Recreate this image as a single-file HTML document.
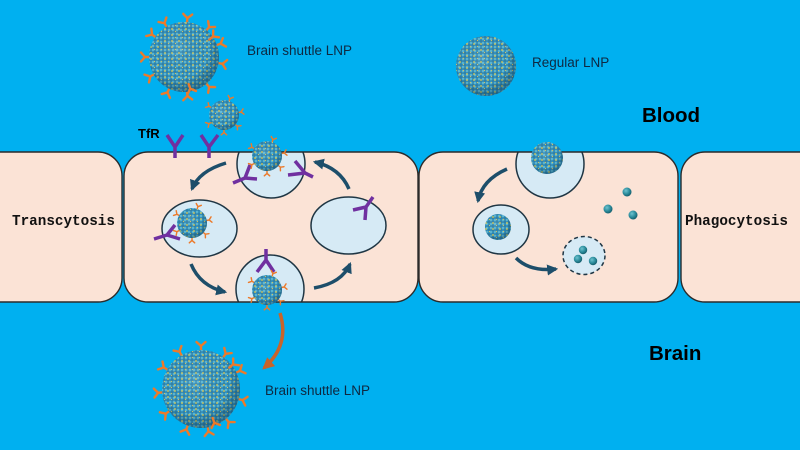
<!DOCTYPE html>
<html><head><meta charset="utf-8"><style>
html,body{margin:0;padding:0;background:#00B0F0;}
svg{display:block;}
</style></head><body>
<svg width="800" height="450" viewBox="0 0 800 450" xmlns="http://www.w3.org/2000/svg">
<defs>
  <pattern id="tex" width="4" height="4" patternUnits="userSpaceOnUse">
    <rect width="4" height="4" fill="#3590ba"/>
    <circle cx="1" cy="1" r="1.2" fill="#5cb8d4"/>
    <circle cx="3" cy="3" r="0.9" fill="#2a7aa3"/>
  </pattern>
  <pattern id="yel" width="7" height="6" patternUnits="userSpaceOnUse">
    <circle cx="2" cy="2" r="0.9" fill="#e9cf4c"/>
    <circle cx="5.5" cy="4.5" r="0.6" fill="#d8c85e"/>
  </pattern>
  <radialGradient id="shade" cx="42%" cy="38%" r="62%">
    <stop offset="0" stop-color="#ffffff" stop-opacity="0.12"/>
    <stop offset="0.7" stop-color="#000000" stop-opacity="0"/>
    <stop offset="1" stop-color="#0a3550" stop-opacity="0.4"/>
  </radialGradient>
  <radialGradient id="ball" cx="38%" cy="35%" r="65%">
    <stop offset="0" stop-color="#6fc3cf"/>
    <stop offset="0.6" stop-color="#2b8c9c"/>
    <stop offset="1" stop-color="#16606e"/>
  </radialGradient>
  <g id="ab">
    <path d="M0,1 V-4 M0,-4 L-4.5,-8 M0,-4 L4.5,-8" stroke="#ec7a2a" stroke-width="2.4" fill="none" stroke-linecap="round"/>
  </g>
  <marker id="ah" viewBox="0 0 10 10" refX="8" refY="5" markerWidth="11" markerHeight="11" markerUnits="userSpaceOnUse" orient="auto">
    <path d="M0,0 L10,5 L0,10 z" fill="#1d4e6a"/>
  </marker>
  <marker id="aho" viewBox="0 0 10 10" refX="8" refY="5" markerWidth="12" markerHeight="12" markerUnits="userSpaceOnUse" orient="auto">
    <path d="M0,0 L10,5 L0,10 z" fill="#c8642a"/>
  </marker>
  <clipPath id="inCell"><rect x="0" y="152" width="800" height="150"/></clipPath>
</defs>

<rect width="800" height="450" fill="#00B0F0"/>

<!-- cells fill -->
<g fill="#FBE3D6">
  <rect x="-30" y="152" width="152" height="150" rx="24"/>
  <rect x="124" y="152" width="294" height="150" rx="24"/>
  <rect x="419" y="152" width="259" height="150" rx="24"/>
  <rect x="681" y="152" width="150" height="150" rx="24"/>
</g>

<!-- vesicles -->
<g stroke="#1f3644" stroke-width="1.5" fill="#D6EAF5">
  <circle cx="271" cy="164" r="34" clip-path="url(#inCell)"/>
  <ellipse cx="199.5" cy="228.5" rx="37.5" ry="28.5"/>
  <ellipse cx="348.5" cy="225.5" rx="37.5" ry="28.5"/>
  <circle cx="270" cy="289" r="34" clip-path="url(#inCell)"/>
  <circle cx="550" cy="164" r="34" clip-path="url(#inCell)"/>
  <ellipse cx="501" cy="229.5" rx="28" ry="24.5"/>
  <ellipse cx="584" cy="255.5" rx="21" ry="19" stroke-dasharray="4,3"/>
</g>

<!-- cell outlines -->
<g fill="none" stroke="#2b2b2b" stroke-width="1.4">
  <rect x="-30" y="152" width="152" height="150" rx="24"/>
  <rect x="124" y="152" width="294" height="150" rx="24"/>
  <rect x="419" y="152" width="259" height="150" rx="24"/>
  <rect x="681" y="152" width="150" height="150" rx="24"/>
</g>

<!-- purple receptors -->
<g stroke="#7030A0" stroke-width="3.5" fill="none" stroke-linecap="butt">
  <path d="M167,135 L175,147 L183,135 M175,147 V158"/>
  <path d="M201,135 L209,147 L218,135 M209,147 V158"/>
  <path d="M245,178 L233,183 M245,178 L257,179 M245,178 L250,165"/>
  <path d="M305,173 L288,175 M305,173 L295,161 M305,173 L313,177"/>
  <path d="M167,235 L154,239 M167,235 L175,225 M167,235 L180,239"/>
  <path d="M366,207 L365,220 M366,207 L353,210 M366,207 L373,197"/>
  <path d="M266,249 V260 L257,272 M266,260 L274,272"/>
</g>

<!-- dark arrows -->
<g stroke="#1d4e6a" stroke-width="3.5" fill="none" marker-end="url(#ah)">
  <path d="M226,163 Q199,171 192,189"/>
  <path d="M191,264 Q200,286 225,292"/>
  <path d="M314,288 Q342,283 350,264"/>
  <path d="M349,189 Q340,168 315,162"/>
  <path d="M507,169 Q482,180 478,201"/>
  <path d="M516,258 Q530,272 556,269"/>
</g>
<path d="M280,313 Q290,345 264,368" stroke="#c8642a" stroke-width="3.5" fill="none" marker-end="url(#aho)"/>

<!-- Brain shuttle LNP top (big) -->
<g transform="translate(184,57)">
  <g>
    <use href="#ab" transform="rotate(5) translate(0,-35)"/>
    <use href="#ab" transform="rotate(40) translate(0,-35)"/>
    <use href="#ab" transform="rotate(70) translate(0,-35)"/>
    <use href="#ab" transform="rotate(100) translate(0,-35)"/>
    <use href="#ab" transform="rotate(140) translate(0,-35)"/>
    <use href="#ab" transform="rotate(175) translate(0,-35)"/>
    <use href="#ab" transform="rotate(205) translate(0,-35)"/>
    <use href="#ab" transform="rotate(240) translate(0,-35)"/>
    <use href="#ab" transform="rotate(270) translate(0,-35)"/>
    <use href="#ab" transform="rotate(305) translate(0,-35)"/>
    <use href="#ab" transform="rotate(330) translate(0,-35)"/>
  </g>
  <circle r="35" fill="url(#tex)"/>
  <circle r="35" fill="url(#yel)"/>
  <circle r="35" fill="url(#shade)"/>
  <use href="#ab" transform="translate(5,28) rotate(160)"/>
  <use href="#ab" transform="translate(26,-18) rotate(50)"/>
</g>

<!-- small falling LNP -->
<g transform="translate(224,115)">
  <use href="#ab" transform="rotate(20) translate(0,-15) scale(0.6)"/>
  <use href="#ab" transform="rotate(80) translate(0,-15) scale(0.6)"/>
  <use href="#ab" transform="rotate(130) translate(0,-15) scale(0.6)"/>
  <use href="#ab" transform="rotate(180) translate(0,-15) scale(0.6)"/>
  <use href="#ab" transform="rotate(240) translate(0,-15) scale(0.6)"/>
  <use href="#ab" transform="rotate(300) translate(0,-15) scale(0.6)"/>
  <circle r="15" fill="url(#tex)"/><circle r="15" fill="url(#yel)"/><circle r="15" fill="url(#shade)"/>
</g>

<!-- top vesicle LNP -->
<g transform="translate(267,156)">
  <use href="#ab" transform="rotate(20) translate(0,-15) scale(0.6)"/>
  <use href="#ab" transform="rotate(80) translate(0,-15) scale(0.6)"/>
  <use href="#ab" transform="rotate(130) translate(0,-15) scale(0.6)"/>
  <use href="#ab" transform="rotate(180) translate(0,-15) scale(0.6)"/>
  <use href="#ab" transform="rotate(240) translate(0,-15) scale(0.6)"/>
  <use href="#ab" transform="rotate(300) translate(0,-15) scale(0.6)"/>
  <circle r="15" fill="url(#tex)"/><circle r="15" fill="url(#yel)"/><circle r="15" fill="url(#shade)"/>
</g>

<!-- left vesicle LNP -->
<g transform="translate(192,223)">
  <use href="#ab" transform="rotate(20) translate(0,-15) scale(0.6)"/>
  <use href="#ab" transform="rotate(80) translate(0,-15) scale(0.6)"/>
  <use href="#ab" transform="rotate(130) translate(0,-15) scale(0.6)"/>
  <use href="#ab" transform="rotate(180) translate(0,-15) scale(0.6)"/>
  <use href="#ab" transform="rotate(240) translate(0,-15) scale(0.6)"/>
  <use href="#ab" transform="rotate(300) translate(0,-15) scale(0.6)"/>
  <circle r="15" fill="url(#tex)"/><circle r="15" fill="url(#yel)"/><circle r="15" fill="url(#shade)"/>
</g>

<!-- bottom vesicle LNP -->
<g transform="translate(267,290)">
  <use href="#ab" transform="rotate(20) translate(0,-15) scale(0.6)"/>
  <use href="#ab" transform="rotate(80) translate(0,-15) scale(0.6)"/>
  <use href="#ab" transform="rotate(130) translate(0,-15) scale(0.6)"/>
  <use href="#ab" transform="rotate(180) translate(0,-15) scale(0.6)"/>
  <use href="#ab" transform="rotate(240) translate(0,-15) scale(0.6)"/>
  <use href="#ab" transform="rotate(300) translate(0,-15) scale(0.6)"/>
  <circle r="15" fill="url(#tex)"/><circle r="15" fill="url(#yel)"/><circle r="15" fill="url(#shade)"/>
</g>

<!-- Brain shuttle LNP bottom (big) -->
<g transform="translate(201,389)">
  <g>
    <use href="#ab" transform="rotate(0) translate(0,-39)"/>
    <use href="#ab" transform="rotate(35) translate(0,-39)"/>
    <use href="#ab" transform="rotate(65) translate(0,-39)"/>
    <use href="#ab" transform="rotate(105) translate(0,-39)"/>
    <use href="#ab" transform="rotate(140) translate(0,-39)"/>
    <use href="#ab" transform="rotate(170) translate(0,-39)"/>
    <use href="#ab" transform="rotate(200) translate(0,-39)"/>
    <use href="#ab" transform="rotate(235) translate(0,-39)"/>
    <use href="#ab" transform="rotate(265) translate(0,-39)"/>
    <use href="#ab" transform="rotate(300) translate(0,-39)"/>
    <use href="#ab" transform="rotate(330) translate(0,-39)"/>
  </g>
  <circle r="39" fill="url(#tex)"/>
  <circle r="39" fill="url(#yel)"/>
  <circle r="39" fill="url(#shade)"/>
  <use href="#ab" transform="translate(12,30) rotate(160)"/>
  <use href="#ab" transform="translate(29,-22) rotate(50)"/>
</g>

<!-- Regular LNPs -->
<g transform="translate(486,66)">
  <circle r="30" fill="url(#tex)"/><circle r="30" fill="url(#yel)"/><circle r="30" fill="url(#shade)"/>
</g>
<g transform="translate(547,158)">
  <circle r="16" fill="url(#tex)"/><circle r="16" fill="url(#yel)"/><circle r="16" fill="url(#shade)"/>
</g>
<g transform="translate(498,227)">
  <circle r="13" fill="url(#tex)"/><circle r="13" fill="url(#yel)"/><circle r="13" fill="url(#shade)"/>
</g>

<!-- small degraded particles -->
<g fill="url(#ball)">
  <circle cx="627" cy="192" r="4.5"/>
  <circle cx="608" cy="209" r="4.5"/>
  <circle cx="633" cy="215" r="4.5"/>
  <circle cx="583" cy="250" r="4.2"/>
  <circle cx="578" cy="259" r="4.2"/>
  <circle cx="593" cy="261" r="4.2"/>
</g>

<!-- labels -->
<g font-family="'Liberation Sans', sans-serif" fill="#0e2841">
  <text x="247" y="55" font-size="13.5">Brain shuttle LNP</text>
  <text x="532" y="67" font-size="13.5">Regular LNP</text>
  <text x="265" y="395" font-size="13.5">Brain shuttle LNP</text>
</g>
<g font-family="'Liberation Sans', sans-serif" font-weight="bold" fill="#000">
  <text x="642" y="122" font-size="20.5">Blood</text>
  <text x="649" y="360" font-size="20.5">Brain</text>
  <text x="138" y="138" font-size="13">TfR</text>
</g>
<g font-family="'Liberation Mono', monospace" font-weight="bold" fill="#111" font-size="14.3">
  <text x="12" y="225">Transcytosis</text>
  <text x="685" y="225">Phagocytosis</text>
</g>
</svg>
</body></html>
